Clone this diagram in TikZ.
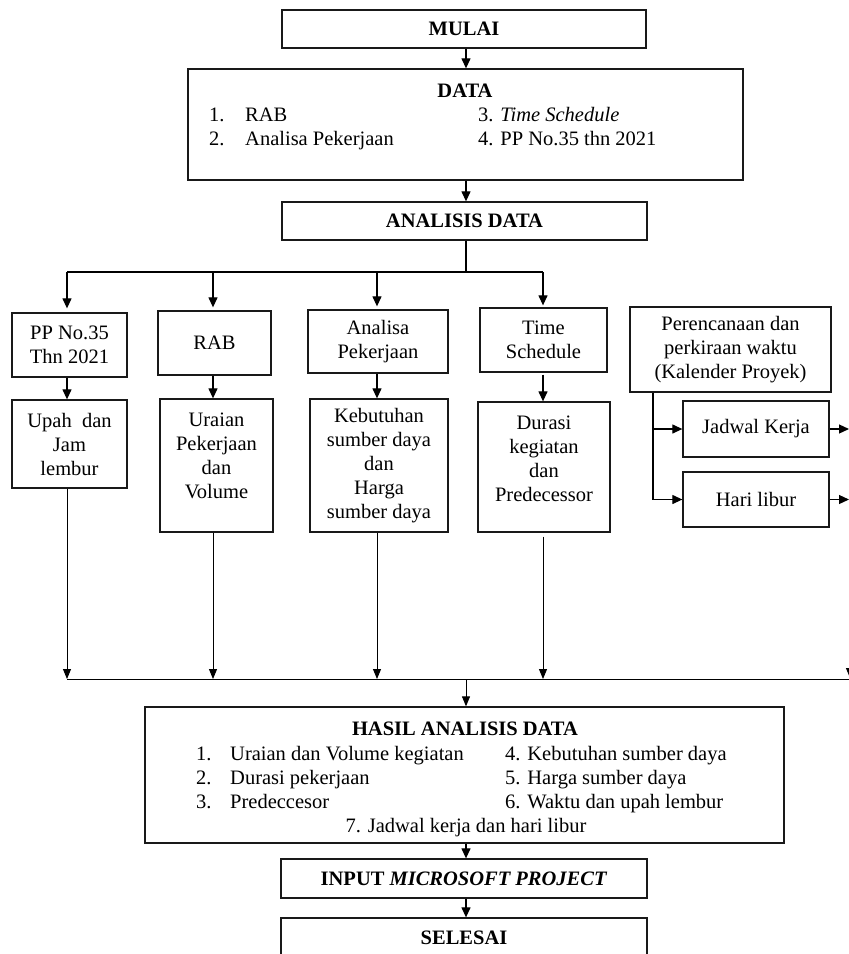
\documentclass[tikz,border=0pt]{standalone}
\usepackage{fontspec}
\setmainfont{Liberation Serif}
\usetikzlibrary{arrows.meta}
\newcommand\fsz{\fontsize{20.5}{24}\selectfont}
\begin{document}
\begin{tikzpicture}[x=1pt,y=-1pt,
  box/.style={draw=black!90, line width=1.3pt, rectangle, inner sep=0pt, align=center, font=\fsz},
  boldbox/.style={box, font=\fsz\bfseries},
  arr/.style={-{Triangle[length=10pt,width=9pt]}, line width=1.2pt},
  arrs/.style={-{Triangle[length=10pt,width=8pt]}, line width=1pt},
  ln/.style={line width=1.2pt},
  lns/.style={line width=1pt},
  txt/.style={inner sep=0pt, anchor=base west, font=\fsz},
  txc/.style={inner sep=0pt, anchor=base, font=\fsz},
  txm/.style={inner sep=0pt, align=center, font=\fsz}]
\useasboundingbox (0,0) rectangle (849,954);
\clip (0,0) rectangle (849,954);

% ---- central boxes
\node[boldbox, minimum width=364pt, minimum height=38pt] (mulai) at (464,29) {MULAI};
\node[box, minimum width=555pt, minimum height=111pt] (data) at (465.5,124.5) {};
\node[txc, font=\fsz\bfseries] (dataT) at (465,97) {DATA};
\node[txt] (d1n) at (209,121) {1.};
\node[txt] (d1) at (245,121) {RAB};
\node[txt] (d2n) at (209,145) {2.};
\node[txt] (d2) at (245,145) {Analisa Pekerjaan};
\node[txt] (d3) at (478,121) {3. \textit{Time Schedule}};
\node[txt] (d4) at (478,145) {4. PP No.35 thn 2021};
\node[boldbox, minimum width=365pt, minimum height=38pt] (anal) at (464.5,221) {ANALISIS DATA};

% ---- upper row
\node[box, minimum width=115pt, minimum height=64pt] (pp) at (69.5,345) {PP No.35\\Thn 2021};
\node[box, minimum width=113pt, minimum height=64pt] (rab) at (214.5,343) {RAB};
\node[box, minimum width=140pt, minimum height=63pt] (ana) at (378,341.5) {Analisa\\Pekerjaan};
\node[box, minimum width=127pt, minimum height=64pt] (time) at (543.5,340) {Time\\Schedule};
\node[box, minimum width=201pt, minimum height=85pt] (per) at (730.5,349.5) {Perencanaan dan\\perkiraan waktu\\(Kalender Proyek)};

% ---- lower row
\node[box, minimum width=115pt, minimum height=88pt] (upah) at (69.5,444) {Upah~ dan\\Jam\\lembur};
\node[box, minimum width=113pt, minimum height=133pt] (ura) at (216.5,465.5) {};
\node[txm] (uraT) at (216.5,456) {Uraian\\Pekerjaan\\dan\\Volume};
\node[box, minimum width=138pt, minimum height=133pt] (keb) at (379,465.5) {Kebutuhan\\sumber daya\\dan\\Harga\\sumber daya};
\node[box, minimum width=132pt, minimum height=130pt] (dur) at (544,467) {};
\node[txm] (durT) at (544,459) {Durasi\\kegiatan\\dan\\Predecessor};
\node[box, minimum width=146pt, minimum height=56pt] (jad) at (756,429) {Jadwal Kerja};
\node[box, minimum width=146pt, minimum height=55pt] (har) at (756,499.5) {Hari libur};

% ---- result boxes
\node[box, minimum width=639pt, minimum height=136pt] (hasil) at (464.5,775) {};
\node[txc, font=\fsz\bfseries] (hT) at (465,735) {HASIL ANALISIS DATA};
\node[txt] (h1n) at (196,760) {1.};
\node[txt] (h1t) at (230,760) {Uraian dan Volume kegiatan};
\node[txt] (h2n) at (196,784) {2.};
\node[txt] (h2t) at (230,784) {Durasi pekerjaan};
\node[txt] (h3n) at (196,808) {3.};
\node[txt] (h3t) at (230,808) {Predeccesor};
\node[txt] (h4t) at (505,760) {4. Kebutuhan sumber daya};
\node[txt] (h5t) at (505,784) {5. Harga sumber daya};
\node[txt] (h6t) at (505,808) {6. Waktu dan upah lembur};
\node[txc] (h7t) at (466,832) {7. Jadwal kerja dan hari libur};
\node[box, font=\fsz\bfseries, minimum width=366pt, minimum height=39pt] (input) at (464,878.5) {INPUT \textit{MICROSOFT PROJECT}};
\node[boldbox, minimum width=366pt, minimum height=40pt] (selesai) at (464,938) {SELESAI};

% ---- coordinates
\coordinate (sp) at (466,0);
\coordinate (tm) at (466,272);
\coordinate (t1) at (67,272);
\coordinate (t2) at (213,272);
\coordinate (t3) at (377,272);
\coordinate (t4) at (543,272);
\coordinate (b1) at (67,679);
\coordinate (b2) at (213,679);
\coordinate (b3) at (377,679);
\coordinate (b4) at (543,679);
\coordinate (bm) at (466,679);
\coordinate (br) at (849,679);
\coordinate (pj) at (653,429);
\coordinate (pb) at (653,499.5);
\coordinate (je) at (849,429);
\coordinate (he) at (849,499.5);
\coordinate (rv0) at (850,640);
\coordinate (rv) at (850,678);

% ---- connectors
\draw[arr] (mulai.south -| sp) -- (data.north -| sp);
\draw[arr] (data.south -| sp) -- (anal.north -| sp);
\draw[ln] (anal.south -| sp) -- (tm);
\draw[ln] (t1) -- (t4);
\draw[arr, shorten >=4pt] (t1) -- (pp.north -| t1);
\draw[arr, shorten >=3pt] (t2) -- (rab.north -| t2);
\draw[arr, shorten >=3pt] (t3) -- (ana.north -| t3);
\draw[arr, shorten >=2pt] (t4) -- (time.north -| t4);

\draw[arr] (pp.south -| t1) -- (upah.north -| t1);
\draw[arr] (rab.south -| t2) -- (ura.north -| t2);
\draw[arr] (ana.south -| t3) -- (keb.north -| t3);
\draw[arr, shorten <=2pt] (time.south -| t4) -- (dur.north -| t4);

\draw[ln] (per.south -| pj) -- (pb);
\draw[arr] (pj) -- (jad.west);
\draw[arr] (pb) -- (har.west);
\draw[arr] (jad.east) -- (je);
\draw[arr] (har.east) -- (he);

\draw[arrs] (upah.south -| b1) -- (b1);
\draw[arrs] (ura.south -| b2) -- (b2);
\draw[arrs] (keb.south -| b3) -- (b3);
\draw[arrs, shorten <=4pt] (dur.south -| b4) -- (b4);
\draw[arrs] (rv0) -- (rv);
\draw[lns] (b1) -- (br);
\draw[arrs] (bm) -- (hasil.north -| bm);
\draw[arr] (hasil.south -| bm) -- (input.north -| bm);
\draw[arr] (input.south -| bm) -- (selesai.north -| bm);
\end{tikzpicture}
\end{document}
